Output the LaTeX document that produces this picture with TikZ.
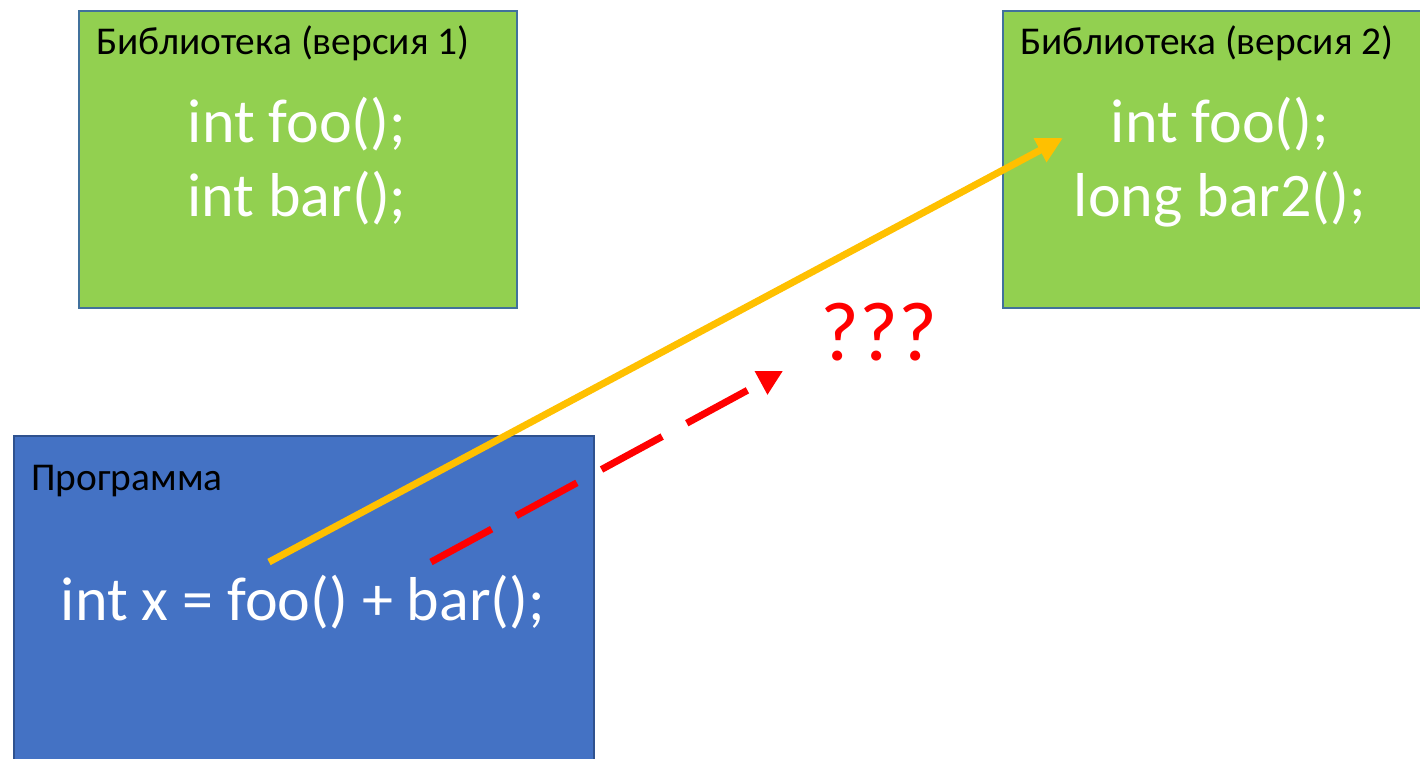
\documentclass[tikz,border=0pt]{standalone}
\usepackage{fontspec}
\setmainfont{Carlito}
\usetikzlibrary{arrows.meta}
\definecolor{libgreen}{HTML}{92D050}
\definecolor{progblue}{HTML}{4472C4}
\definecolor{boxline}{HTML}{2F528F}
\definecolor{libline}{HTML}{41719C}
\definecolor{yarrowc}{HTML}{FFC000}
\definecolor{rarrowc}{HTML}{FF0000}
\tikzset{
  libbox/.style={draw=libline, line width=1pt, fill=libgreen, anchor=north west, inner sep=0pt, minimum height=148.5pt},
  progbox/.style={draw=boxline, line width=1pt, fill=progblue, anchor=north west, inner sep=0pt},
  titletext/.style={anchor=base west, inner sep=0pt, font=\fontsize{19.7pt}{24pt}\selectfont, text=black},
  codetext/.style={anchor=base, inner sep=0pt, font=\fontsize{31pt}{37pt}\selectfont, text=white},
  okarrow/.style={draw=yarrowc, line width=3.5pt, -{Triangle[length=13pt,width=12.75pt]}},
  badarrow/.style={draw=rarrowc, line width=3.5pt, dash pattern=on 34.5pt off 14pt, -{Triangle[length=12.5pt,width=12.5pt]}},
  qtext/.style={anchor=base, inner sep=0pt, font=\fontsize{42pt}{50pt}\selectfont, text=rarrowc}
}
\begin{document}
\begin{tikzpicture}[x=0.5pt, y=-0.5pt]
\clip (0,0) rectangle (1420,759);
\fill[white] (0,0) rectangle (1420,759);
% library version 1
\node[libbox, minimum width=219pt] (lib1) at (78,10) {};
\node[titletext] (lib1title) at (96,55) {Библиотека (версия 1)};
\node[codetext] (lib1a) at (297,143) {int foo();};
\node[codetext] (lib1b) at (297,217) {int bar();};
% library version 2
\node[libbox, minimum width=218pt] (lib2) at (1002,10) {};
\node[titletext] (lib2title) at (1020,55) {Библиотека (версия 2)};
\node[codetext] (lib2a) at (1220,143) {int foo();};
\node[codetext] (lib2b) at (1220,217) {long bar2();};
% program
\node[progbox, minimum width=290pt, minimum height=172.5pt] (prog) at (13,435) {};
\node[titletext] (progtitle) at (31,490) {Программа};
\node[codetext] (progcode) at (303,620) {int x = foo() + bar();};
% question marks
\node[qtext] (q) at (879,361) {???};
% arrows
\coordinate (ystart) at (269,562);
\coordinate (yend) at (1063,138);
\coordinate (rstart) at (431,562);
\coordinate (rend) at (783,371);
\draw[okarrow] (ystart) -- (yend);
\draw[badarrow] (rstart) -- (rend);
\end{tikzpicture}
\end{document}
